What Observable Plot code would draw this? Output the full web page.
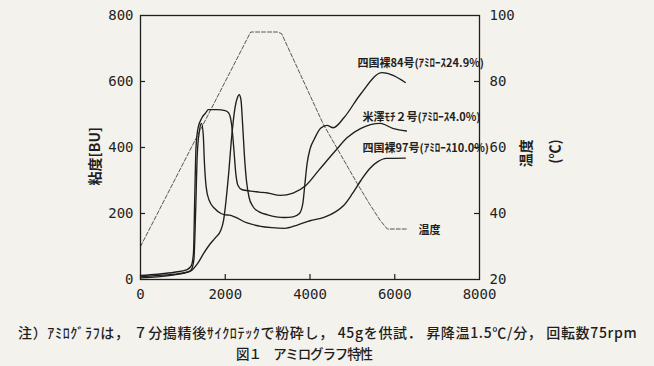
<!DOCTYPE html>
<html><head><meta charset="utf-8">
<script src="https://cdn.jsdelivr.net/npm/d3@7"></script>
<script src="https://cdn.jsdelivr.net/npm/@observablehq/plot@0.6"></script>
<style>
html,body{margin:0;padding:0;background:#f4f2ec;}
body{width:654px;height:366px;overflow:hidden;position:relative;font-family:"Noto Sans CJK JP",sans-serif;color:#1e1e1e;}
#chart{position:absolute;left:0;top:0;}
.cap{position:absolute;white-space:nowrap;font-weight:500;}
#c1{left:18px;top:322px;font-size:14px;}
#c2{left:236px;top:343px;font-size:13.5px;}
</style></head><body>
<div id="chart"></div>
<div class="cap" id="c1">注）ｱﾐﾛｸﾞﾗﾌは， ７分搗精後ｻｲｸﾛﾃｯｸで粉砕し， 45gを供試． 昇降温1.5℃/分， 回転数75rpm</div>
<div class="cap" id="c2">図１　アミログラフ特性</div>
<script>
// ---- data ----
const xTicks = [0, 2000, 4000, 6000, 8000];
const yTicks = [0, 200, 400, 600, 800];
const tempTicks = [20, 40, 60, 80, 100];

const seriesNames = ["四国裸84号(ｱﾐﾛｰｽ24.9%)", "米澤ﾓﾁ２号(ｱﾐﾛｰｽ4.0%)", "四国裸97号(ｱﾐﾛｰｽ10.0%)"];

const time84 = [0, 400, 800, 1100, 1180, 1345, 1490, 1650, 1770, 1890, 1960, 2000, 2080, 2150, 2230, 2290, 2330, 2370, 2410, 2450, 2500, 2560, 2650, 2800, 3000, 3200, 3400, 3600, 3750, 3830, 3880, 3930, 4000, 4100, 4250, 4400, 4550, 4800, 5200, 5700, 6250];
const visc84 = [8, 12, 16, 22, 25, 48, 79, 109, 127, 148, 179, 218, 321, 430, 520, 552, 560, 545, 470, 380, 300, 250, 222, 205, 196, 190, 188, 190, 200, 230, 290, 350, 395, 425, 458, 467, 460, 490, 563, 627, 597];

const timeMochi = [0, 400, 800, 1100, 1200, 1250, 1280, 1310, 1360, 1450, 1540, 1600, 1800, 2000, 2080, 2150, 2200, 2250, 2300, 2400, 2600, 2800, 3000, 3300, 3600, 3900, 4200, 4600, 4880, 5190, 5660, 5970, 6275];
const viscMochi = [12, 16, 22, 30, 42, 80, 250, 400, 460, 490, 505, 515, 515, 512, 505, 470, 400, 320, 285, 272, 268, 265, 262, 255, 262, 285, 330, 390, 430, 457, 473, 457, 450];

const time97 = [0, 400, 800, 1100, 1200, 1260, 1300, 1340, 1390, 1440, 1480, 1510, 1550, 1620, 1750, 1900, 2000, 2100, 2250, 2500, 2800, 3100, 3400, 3700, 4000, 4330, 4600, 4800, 5000, 5200, 5400, 5600, 5800, 6250];
const visc97 = [5, 8, 14, 22, 30, 60, 200, 380, 450, 473, 440, 350, 280, 240, 215, 200, 196, 195, 188, 172, 162, 157, 155, 165, 178, 188, 205, 225, 260, 300, 335, 357, 367, 368];

const tempTime = [0, 2600, 3230, 3330, 4316, 5118, 5400, 5650, 5825, 6300];
const tempValue = [30, 95, 95, 94.5, 67, 49, 43, 38, 35.3, 35.3];

// ---- build tables ----
const curves = [];
[[time84, visc84], [timeMochi, viscMochi], [time97, visc97]].forEach(([ts, vs], i) => {
  ts.forEach((t, j) => curves.push({series: seriesNames[i], t, v: vs[j]}));
});
// temperature shares the left scale: 20-100 ℃ <-> 0-800 BU
const tempToY = c => (c - 20) * 10;
const tempRows = tempTime.map((t, j) => ({t, v: tempToY(tempValue[j])}));

const ink = "#1f1f1f";
const tickFont = "'DejaVu Sans Mono', monospace";

const chart = Plot.plot({
  width: 654, height: 322,
  marginLeft: 140, marginRight: 175, marginTop: 15, marginBottom: 43,
  x: {domain: [0, 8000]},
  y: {domain: [0, 800]},
  style: {background: "transparent", color: ink, fontFamily: "'Noto Sans CJK JP', sans-serif", fontSize: "13px"},
  marks: [
    Plot.axisX(xTicks, {tickSize: 0, tickPadding: 10, tickFormat: d => String(d), label: null, fontFamily: tickFont, fontSize: 14, fill: ink}),
    Plot.axisY(yTicks, {anchor: "left", tickSize: 0, tickPadding: 7, tickFormat: d => String(d), label: null, fontFamily: tickFont, fontSize: 14, fill: ink}),
    Plot.axisY(tempTicks.map(tempToY), {anchor: "right", tickSize: 0, tickPadding: 10, tickFormat: d => String(d / 10 + 20), label: null, fontFamily: tickFont, fontSize: 14, fill: ink}),
    Plot.tickY(yTicks.slice(1, 4), {insetRight: 334, stroke: ink, strokeWidth: 1.2}),
    Plot.tickY([40, 60, 80].map(tempToY), {insetLeft: 334, stroke: ink, strokeWidth: 1.2}),
    Plot.tickX(xTicks.slice(1, 4), {insetTop: 259, stroke: ink, strokeWidth: 1.2}),
    Plot.line(tempRows, {x: "t", y: "v", stroke: "#444", strokeWidth: 0.9, strokeDasharray: "4,2"}),
    Plot.line(curves, {x: "t", y: "v", z: "series", stroke: ink, strokeWidth: 1.35, curve: "monotone-x"}),
    Plot.frame({stroke: ink, strokeWidth: 1.3}),
    Plot.text([seriesNames[0]], {x: 5120, y: 655, text: d => d, textAnchor: "start", fontSize: 11, fontWeight: "bold", fill: ink}),
    Plot.text([seriesNames[1]], {x: 5240, y: 491, text: d => d, textAnchor: "start", fontSize: 11, fontWeight: "bold", fill: ink}),
    Plot.text([seriesNames[2]], {x: 5240, y: 397, text: d => d, textAnchor: "start", fontSize: 11, fontWeight: "bold", fill: ink}),
    Plot.text(["温度"], {x: 6560, y: 148, text: d => d, textAnchor: "start", fontSize: 11, fontWeight: "bold", fill: ink}),
    Plot.text(["粘度[BU]"], {frameAnchor: "left", dx: -45, y: 285, text: d => d, rotate: -90, fontSize: 14, fontWeight: "bold", fill: ink}),
    Plot.text(["温度"], {frameAnchor: "right", dx: 47, y: 425, text: d => d, rotate: -90, fontSize: 14, fontWeight: "bold", fill: ink}),
    Plot.text(["(℃)"], {frameAnchor: "right", dx: 76, y: 425, text: d => d, rotate: -90, fontSize: 14, fontWeight: "bold", fill: ink})
  ]
});
document.getElementById("chart").appendChild(chart);

// stretch the caption lines to the widths they occupy in the figure
function fit(id, target) {
  const el = document.getElementById(id);
  const n = el.textContent.length;
  const w = el.getBoundingClientRect().width;
  el.style.letterSpacing = ((target - w) / n) + "px";
}
fit("c1", 620);
fit("c2", 136);
</script>
</body></html>
